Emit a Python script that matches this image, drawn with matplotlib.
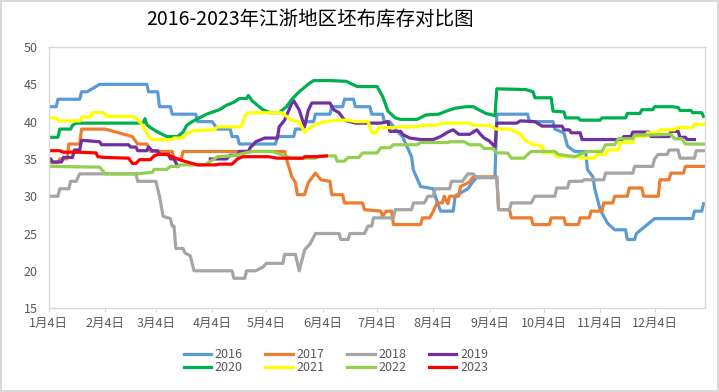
import numpy as np
import pandas as pd
import matplotlib
matplotlib.use("Agg")
import matplotlib.pyplot as plt

plt.rcParams['font.family'] = ['Noto Sans CJK SC', 'DejaVu Sans']

# x values are day-of-year (2023 calendar), y values are inventory (days)
x2016 = [4, 8, 9, 21, 22, 25, 32, 58, 59, 64, 65, 71, 72, 85, 86, 94, 97, 104, 105, 108, 109, 129, 130, 139,
         140, 144, 145, 150, 151, 159, 160, 166, 167, 172, 173, 181, 182, 188, 189, 192, 195, 199, 204, 205,
         209, 216, 217, 220, 227, 228, 235, 238, 240, 250, 251, 268, 269, 282, 283, 288, 290, 294, 300, 301,
         304, 305, 308, 312, 316, 322, 323, 327, 328, 333, 338, 359, 360, 364, 365]
y2016 = [42, 42, 43, 43, 44, 44, 45, 45, 44, 44, 42, 42, 41, 41, 40, 40, 39, 39, 38, 38, 37, 37, 38, 38,
         39, 39, 40, 40, 41, 41, 42, 42, 43, 43, 42, 42, 41, 41, 40, 40, 39, 38, 35.3, 33.5,
         31.3, 31, 30, 28, 28, 30, 31, 32, 32.5, 32.5, 41, 41, 40, 40, 39, 38.5, 36.7, 36, 36, 33.6,
         32.6, 31, 28.2, 26.4, 25.5, 25.5, 24.2, 24.2, 25, 26, 27, 27, 28, 28, 29]

x2017 = [4, 9, 10, 14, 15, 21, 22, 35, 50, 53, 58, 60, 72, 73, 77, 78, 134, 135, 138, 140, 141, 145, 147,
         151, 154, 159, 160, 166, 167, 177, 178, 187, 188, 190, 193, 194, 209, 210, 214, 216, 218, 221, 222,
         224, 225, 230, 231, 236, 238, 251, 252, 258, 259, 270, 271, 280, 281, 288, 289, 296, 297, 302, 303,
         309, 310, 315, 316, 323, 324, 331, 332, 340, 341, 346, 347, 354, 355, 365]
y2017 = [34.5, 34.5, 35, 35, 37, 37, 39, 39, 38, 37, 37, 36, 36, 35, 35, 36, 36, 35, 32.6, 31.8, 30.2, 30.2, 31.8,
         33.1, 32.2, 32, 30.2, 30.2, 29.1, 29.1, 28.2, 28, 27.3, 28, 28, 26.2, 26.2, 27.1, 27.1, 28, 29.1, 29.1, 30,
         29, 30, 30, 31.3, 31.9, 32.6, 32.6, 28.2, 28.2, 27.1, 27.1, 26.2, 26.2, 27.1, 27.1, 26.2, 26.2, 27.1, 27.1, 28,
         28, 29.1, 29.1, 30, 30, 31.1, 31.1, 30, 30, 32.2, 32.2, 33.1, 33.1, 34, 34]

x2018 = [4, 9, 10, 15, 16, 19, 21, 52, 53, 63, 65, 67, 71, 72, 73, 74, 78, 79, 82, 84, 105, 106, 112, 113,
         118, 122, 124, 128, 129, 133, 134, 140, 142, 145, 148, 151, 164, 165, 169, 170, 178, 180, 182, 183,
         194, 195, 204, 205, 211, 213, 216, 217, 225, 226, 232, 235, 238, 240, 251, 252, 258, 259, 270, 272,
         283, 284, 290, 291, 298, 299, 310, 311, 326, 327, 337, 338, 340, 345, 346, 351, 352, 360, 361, 365]
y2018 = [30, 30, 31, 31, 32, 32, 33, 33, 32, 32, 30, 27.3, 27, 26, 26, 23, 23, 22.4, 22, 20, 20, 19, 19, 20,
         20, 20.5, 21, 21, 21, 21, 22.2, 22.2, 20, 22.8, 23.6, 25, 25, 24.2, 24.2, 25, 25, 26, 26, 27.1,
         27.1, 28.2, 28.2, 29.1, 29.1, 30, 30, 31, 31, 32, 32, 33, 33, 32.5, 32.5, 28.2, 28.2, 29.1, 29.1, 30,
         30, 31.1, 31.1, 32, 32, 32.2, 32.2, 33.1, 33.1, 34, 34, 35, 35.6, 35.6, 36.2, 36.2, 35.1, 35.1, 36.1, 36.1]

# 2019 has a gap in the data between mid March and early April
x2019 = [4, 5, 6, 11, 12, 17, 18, 21, 22, 32, 33, 48, 49, 52, 53, 58, 59, 61, 64, 65, 70, 71, 73, 75,
         np.nan,
         93, 102, 104, 108, 109, 114, 115, 117, 118, 123, 130, 131, 134, 138, 139, 142, 145, 147, 149, 159,
         161, 164, 167, 173, 187, 191, 192, 198, 199, 203, 209, 216, 220, 224, 227, 230, 236, 238, 240, 242,
         244, 247, 250, 251, 262, 264, 272, 276, 287, 288, 291, 292, 297, 298, 320, 321, 325, 326, 335, 336,
         346, 347, 351, 352, 355, 356, 360]
y2019 = [35, 35, 34.6, 34.6, 35.2, 35.2, 36.2, 36.2, 37.5, 37.3, 36.9, 36.9, 36.6, 36.6, 36.1, 36.1, 36.6, 36.1, 36.1, 35.6, 35.6, 35, 35, 34,
         np.nan,
         35, 35, 35.5, 35.5, 36, 36, 36.5, 37, 37.3, 37.8, 37.8, 39.3, 40.2, 42.5, 42.8, 41.6, 39.3, 41.5, 42.5, 42.5,
         41.6, 41.2, 40.2, 39.8, 39.8, 40, 38.7, 38.7, 38.3, 37.8, 37.6, 37.6, 38, 38.6, 38.9, 38.3, 38.3, 38.6, 38.9, 38.3,
         37.8, 37.4, 36.6, 39.8, 39.8, 40.1, 40, 39.4, 39.4, 38.9, 38.9, 38.5, 38.5, 37.6, 37.6, 38, 38, 38.6, 38.6, 38,
         38, 38.7, 38.7, 37.9, 37.9, 37.6, 37.6]

x2020 = [4, 9, 10, 16, 17, 19, 54, 56, 57, 58, 60, 64, 69, 75, 78, 80, 83, 91, 98, 102, 106, 109, 113, 114,
         116, 120, 122, 126, 131, 135, 138, 142, 148, 150, 160, 168, 174, 185, 188, 191, 195, 198, 207, 212,
         219, 223, 228, 234, 238, 241, 245, 250, 251, 267, 271, 272, 281, 282, 288, 289, 296, 297, 308, 309,
         322, 323, 330, 331, 337, 338, 348, 351, 352, 358, 359, 364, 365]
y2020 = [37.9, 37.9, 39, 39, 39.5, 39.8, 39.8, 39.8, 40.4, 39.6, 39.2, 38.6, 38, 38, 38.6, 39.5, 40, 41, 41.6, 42.2, 42.6, 43.1, 43.1, 43.5,
         42.8, 42, 41.6, 41.2, 41.2, 42, 43, 44, 45.2, 45.5, 45.5, 45.4, 44.7, 44.7, 43.4, 41.4, 40.5, 40.3, 40.3, 40.9,
         41, 41.4, 41.8, 42, 42, 41.6, 41.1, 40.8, 44.4, 44.3, 44, 43.2, 43.2, 41.4, 41.3, 40.5, 40.5, 40.2, 40.2, 40.5,
         40.5, 41.1, 41.1, 41.6, 41.6, 42, 42, 41.9, 41.5, 41.5, 41.2, 41.2, 40.7]

x2021 = [4, 8, 10, 21, 22, 27, 28, 34, 36, 50, 53, 56, 59, 61, 72, 73, 78, 80, 84, 95, 97, 110, 112, 114,
         132, 134, 138, 142, 145, 147, 151, 156, 164, 169, 173, 180, 182, 184, 186, 194, 196, 207, 209, 218,
         220, 236, 238, 247, 249, 251, 258, 260, 264, 266, 270, 276, 277, 283, 284, 296, 297, 305, 306, 311,
         312, 318, 319, 326, 327, 333, 334, 340, 341, 349, 350, 359, 360, 365]
y2021 = [40.5, 40.5, 40.1, 40.1, 40.6, 40.6, 41.2, 41.2, 40.7, 40.7, 40.3, 39.4, 38, 37.6, 37.6, 37.8, 37.8, 38.4, 38.8, 38.9, 39.3, 39.3, 40.7, 41.2,
         41.2, 40.9, 40.2, 40, 38.6, 39, 39.6, 40, 40.2, 40.2, 40, 40, 38.6, 38.4, 39.2, 39.2, 39.3, 39.3, 39.5, 39.5,
         39.8, 39.8, 39.5, 39.5, 39.2, 39, 39, 38.8, 38.3, 37.6, 37, 36.7, 35.8, 35.8, 35.3, 35.3, 35.1, 35.1, 35.6, 35.6,
         36.2, 36.2, 37.2, 37.2, 38, 38, 38.5, 38.5, 38.9, 38.9, 39.2, 39.2, 39.6, 39.6]

x2022 = [4, 32, 35, 52, 61, 62, 69, 71, 75, 76, 90, 97, 105, 116, 127, 138, 151, 153, 162, 163, 167, 169,
         175, 177, 185, 187, 192, 194, 207, 209, 224, 225, 233, 236, 242, 244, 249, 251, 257, 259, 266, 268,
         270, 283, 285, 294, 301, 309, 311, 316, 318, 326, 327, 335, 347, 349, 353, 355, 365]
y2022 = [34, 33.9, 33, 33, 33.2, 33.6, 33.6, 34, 34, 34.2, 34.2, 35.3, 35.4, 36, 36, 35.1, 35.1, 35.4, 35.4, 34.7, 34.7, 35.2,
         35.2, 35.8, 35.8, 36.5, 36.5, 36.9, 36.9, 37.2, 37.2, 37.3, 37.3, 36.9, 36.9, 36.4, 36.4, 35.8, 35.8, 35.1, 35.1, 35.6,
         36, 36, 35.6, 35.3, 36, 36, 36.9, 36.9, 37.7, 37.7, 38.2, 38.2, 38.3, 37.7, 37.7, 37, 37]

x2023 = [4, 10, 12, 21, 30, 31, 35, 48, 50, 52, 54, 60, 62, 64, 69, 72, 76, 80, 86, 96, 98, 105, 108, 111,
         125, 130, 144, 145, 152, 157]
y2023 = [36.1, 36.1, 35.9, 35.9, 35.8, 35.3, 35.2, 35.1, 34.4, 34.4, 34.9, 34.9, 35.4, 35.6, 35.6, 35.3, 34.9, 34.6, 34.2, 34.2, 34.3, 34.3, 35, 35.3,
         35.3, 35.1, 35.1, 35.3, 35.3, 35.4]

years = ["2016", "2017", "2018", "2019", "2020", "2021", "2022", "2023"]
colors = ["#5B9BD5", "#ED7D31", "#A5A5A5", "#7030A0", "#00B050", "#FFFF00", "#92D050", "#FF0000"]
xs = [x2016, x2017, x2018, x2019, x2020, x2021, x2022, x2023]
ys = [y2016, y2017, y2018, y2019, y2020, y2021, y2022, y2023]

month_ticks = [f"{m}月4日" for m in range(1, 13)]

base = pd.Timestamp("2023-01-01")


def to_dates(doys):
    out = []
    for d in doys:
        if np.isnan(d):
            out.append(pd.NaT)
        else:
            out.append(base + pd.Timedelta(days=float(d) - 1))
    return pd.to_datetime(out)


fig = plt.figure(figsize=(7.19, 3.92), dpi=100)
fig.patch.set_edgecolor("#D9D9D9")
fig.patch.set_linewidth(1.5)
ax = fig.add_axes([0.068, 0.214, 0.913, 0.666])

lines = {}
for yr, c, x, y in zip(years, colors, xs, ys):
    ln, = ax.plot(to_dates(x), np.array(y, dtype=float), color=c, lw=2.3, label=yr,
                  solid_joinstyle="round")
    lines[yr] = ln

ax.set_ylim(15, 50)
ax.set_yticks(range(15, 51, 5))
ax.set_xlim(base + pd.Timedelta(days=3), base + pd.Timedelta(days=365))
tick_pos = [pd.Timestamp(2023, m, 4) for m in range(1, 13)]
ax.set_xticks(tick_pos)
ax.set_xticklabels(month_ticks)

for s in ax.spines.values():
    s.set_color("#D9D9D9")
    s.set_linewidth(1)
ax.tick_params(axis="y", length=0, pad=8, labelsize=9, labelcolor="#595959")
ax.tick_params(axis="x", length=3, direction="out", color="#D9D9D9", pad=3,
               labelsize=9, labelcolor="#595959")

fig.text(0.431, 0.95, "2016-2023年江浙地区坯布库存对比图", ha="center", va="center",
         fontsize=14, color="#000000")

# legend is filled row by row in the original
order = ["2016", "2020", "2017", "2021", "2018", "2022", "2019", "2023"]
ax.legend([lines[k] for k in order], order, ncol=4, loc="center",
          bbox_to_anchor=(0.467, 0.079), bbox_transform=fig.transFigure,
          frameon=False, fontsize=9, labelcolor="#595959", handlelength=2.2,
          handletextpad=0.3, columnspacing=1.8, labelspacing=0.0)

fig.savefig("out.png", dpi=100)
